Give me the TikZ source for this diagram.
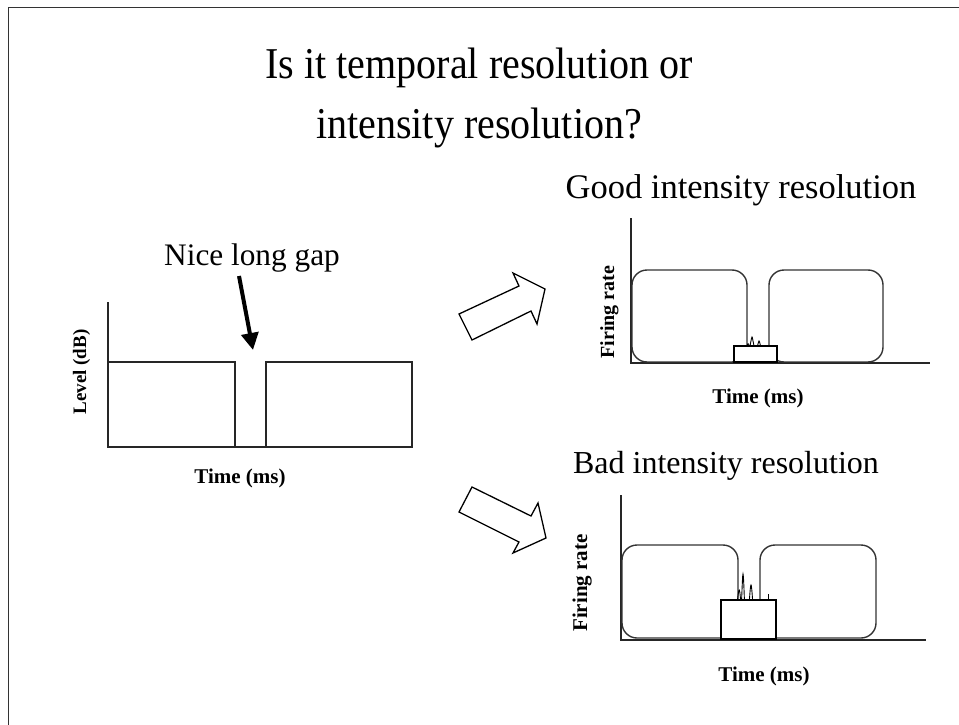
\documentclass[tikz,border=0pt]{standalone}
\usepackage{fontspec}
\setmainfont{Liberation Serif}
\usetikzlibrary{arrows.meta}
\begin{document}
\begin{tikzpicture}[x=1pt,y=-1pt,
  frame/.style={line width=1.5pt, draw=black!80},
  axis/.style={line width=1.1pt, draw=black!85},
  pulse/.style={line width=1.2pt, draw=black!85},
  env/.style={line width=1.4pt, draw=black!80, rounded corners=15pt},
  burst/.style={line width=1.2pt, draw=black, fill=white},
  spike/.style={line width=0.9pt, draw=black},
  blockarrow/.style={line width=1.3pt, draw=black, fill=white, line join=miter},
  title/.style={font=\fontsize{44}{52}\selectfont, inner sep=0pt, anchor=base},
  head/.style={inner sep=0pt, anchor=base},
  lab/.style={font=\fontsize{21}{24}\selectfont\bfseries, inner sep=0pt, anchor=base},
  vlab/.style={lab, rotate=90}]
\useasboundingbox (0,0) rectangle (959,725);

% slide edge (top and left only)
\draw[frame] (959,7.5) -- (8.5,7.5) -- (8.5,725);

% title
\node[title] (t1) at (479,78) {\scalebox{0.91}[1]{Is it temporal resolution or}};
\node[title] (t2) at (479,138) {\scalebox{0.91}[1]{intensity resolution?}};

% ---------------- stimulus: two tones with a gap ----------------
\node[head, font=\fontsize{31.3}{36}\selectfont] (gaplabel) at (252,265) {Nice long gap};
\coordinate (gaptail) at (239,276);
\coordinate (gaptip) at (253,350);
\draw[line width=4pt, -{Triangle[length=17pt,width=17pt]}] (gaptail) -- (gaptip);

\draw[axis] (108,302) -- (108,447) -- (412,447);
\draw[pulse] (108,447) rectangle (235,362);
\draw[pulse] (266,447) rectangle (412,362);
\node[vlab, font=\fontsize{19}{22}\selectfont\bfseries] (levlab) at (86,372) {Level (dB)};
\node[lab] (stimtime) at (240,483) {Time (ms)};

% block arrows to the two outcomes
\draw[blockarrow] (459,314) -- (519,286) -- (513,273) -- (545,289)
  -- (537,324) -- (531,311) -- (472,340) -- cycle;
\draw[blockarrow] (459,512) -- (472,487) -- (531,516) -- (538,503)
  -- (546,538) -- (513,553) -- (519,542) -- cycle;

% ---------------- good intensity resolution ----------------
\node[head, font=\fontsize{34.5}{40}\selectfont] (goodlab) at (741,198) {Good intensity resolution};
\draw[axis] (631,218) -- (631,363) -- (930,363);
\draw[env] (632,362) rectangle (747,270);
\draw[env] (769,362) rectangle (883,270);
\draw[burst] (734,362) rectangle (777,346);
\draw[spike] (747,346) .. controls (747.8,343) and (748.4,343) .. (749.2,346);
\draw[spike] (750,346) .. controls (751.4,339) and (751.6,337) .. (752,337)
  .. controls (752.4,337) and (752.8,340) .. (754,346);
\draw[spike] (757.5,346) .. controls (758.5,342) and (758.8,341) .. (759,341)
  .. controls (759.3,341) and (759.7,342) .. (760.5,346);
\node[vlab, font=\fontsize{20}{22}\selectfont\bfseries] (goodrate) at (614,312) {Firing rate};
\node[lab] (goodtime) at (758,403) {Time (ms)};

% ---------------- bad intensity resolution ----------------
\node[head, font=\fontsize{32}{38}\selectfont] (badlab) at (726,473) {Bad intensity resolution};
\draw[axis] (621,495) -- (621,640) -- (926,640);
\draw[env] (622,638) rectangle (738,545);
\draw[env] (760,638) rectangle (876,545);
\draw[burst] (721,639) rectangle (776,600);
\draw[spike] (737.5,600) .. controls (738.4,592) and (738.8,590) .. (739.2,590)
  .. controls (739.6,590) and (740,593) .. (740.6,600);
\draw[spike] (741.6,600) .. controls (742.4,580) and (742.7,574) .. (743,574)
  .. controls (743.3,574) and (743.7,580) .. (744.4,600);
\draw[spike] (749.4,600) .. controls (750.2,589) and (750.6,585) .. (751,585)
  .. controls (751.4,585) and (751.8,589) .. (752.6,600);
\draw[spike] (768,594) -- (768,600);
\node[vlab] (badrate) at (587,583) {Firing rate};
\node[lab] (badtime) at (764,681) {Time (ms)};
\end{tikzpicture}
\end{document}
